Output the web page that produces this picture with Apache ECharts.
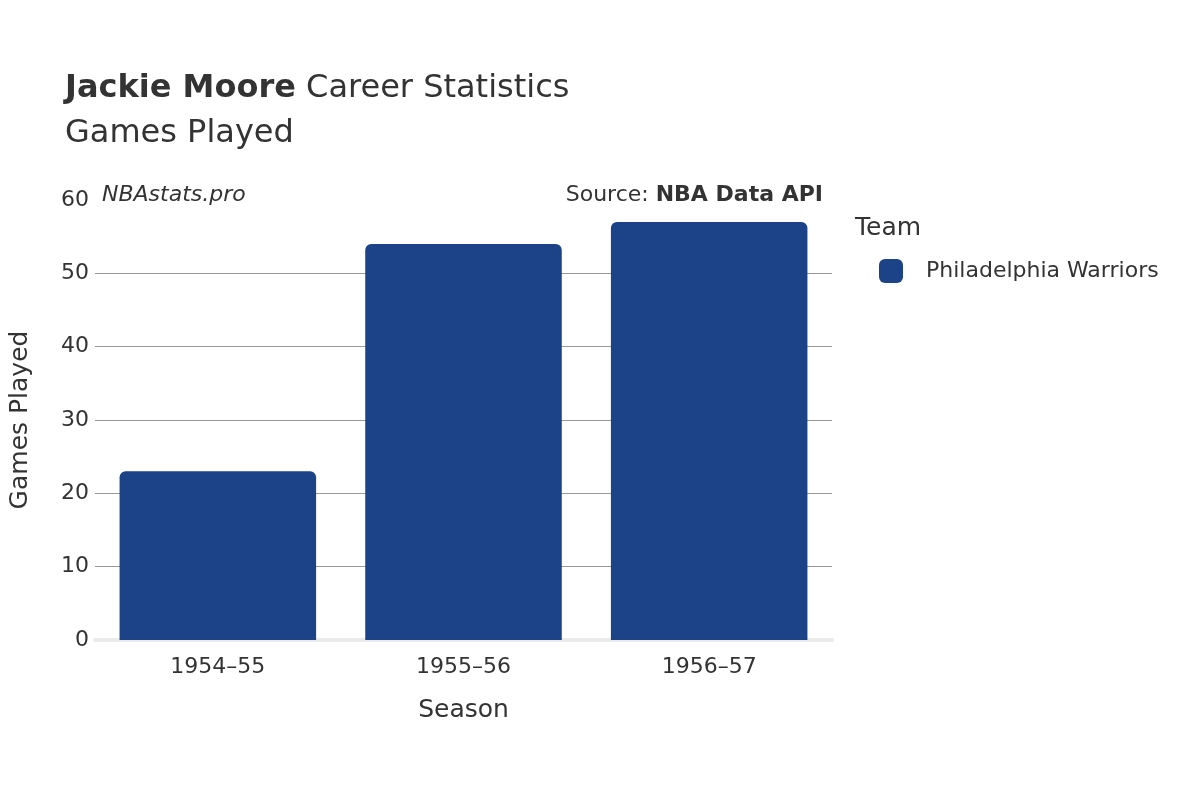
<!DOCTYPE html>
<html>
<head>
<meta charset="utf-8">
<script src="https://cdn.jsdelivr.net/npm/echarts@6/dist/echarts.min.js"></script>
<style>html,body{margin:0;padding:0;background:#fff}#main{width:1200px;height:800px}</style>
</head>
<body>
<div id="main"></div>
<script>
// 数据
const seasons = ['1954–55', '1955–56', '1956–57']
const gamesPlayed = [23, 54, 57]
const teamName = 'Philadelphia Warriors'
const yTicks = [0, 60, 10]

const font = 'DejaVu Sans'
const myChart = echarts.init(document.querySelector('#main'))
const option = {
  animation: false,
  textStyle: { fontFamily: font },
  title: [
    {
      text: '{b|Jackie Moore} Career Statistics',
      left: 60, top: 68,
      textStyle: {
        fontFamily: font, fontSize: 32, color: '#333', fontWeight: 'normal',
        rich: { b: { fontFamily: font, fontSize: 32, fontWeight: 'bold', color: '#333' } }
      }
    },
    { text: 'Games Played', left: 60, top: 113, textStyle: { fontFamily: font, fontSize: 32, color: '#333', fontWeight: 'normal' } },
    { text: 'NBAstats.pro', left: 97, top: 179, textStyle: { fontFamily: font, fontSize: 22, color: '#333', fontStyle: 'italic', fontWeight: 'normal' } },
    {
      text: 'Source: {b|NBA Data API}', right: 372, top: 179,
      textStyle: {
        fontFamily: font, fontSize: 22, color: '#333', fontWeight: 'normal',
        rich: { b: { fontFamily: font, fontSize: 22, fontWeight: 'bold', color: '#333' } }
      }
    },
    { text: 'Team', left: 850, top: 211, textStyle: { fontFamily: font, fontSize: 25, color: '#333', fontWeight: 'normal' } }
  ],
  legend: {
    left: 874, top: 254,
    itemWidth: 24, itemHeight: 24, itemGap: 10,
    icon: 'roundRect',
    textStyle: { fontFamily: font, fontSize: 22, color: '#333', padding: [0, 0, 0, 18] },
    data: [teamName]
  },
  grid: { left: 93, right: 368, top: 200, bottom: 160 },
  xAxis: {
    type: 'category',
    data: seasons,
    name: 'Season', nameLocation: 'middle', nameGap: 58,
    nameTextStyle: { fontFamily: font, fontSize: 25, color: '#333' },
    axisLine: { lineStyle: { color: '#ebebeb', width: 4 } },
    axisTick: { show: false },
    axisLabel: { fontFamily: font, fontSize: 22, color: '#333', margin: 16 }
  },
  yAxis: {
    type: 'value',
    min: yTicks[0], max: yTicks[1], interval: yTicks[2],
    name: 'Games Played', nameLocation: 'middle', nameGap: 62,
    nameTextStyle: { fontFamily: font, fontSize: 25, color: '#333' },
    axisLabel: { fontFamily: font, fontSize: 22, color: '#333', margin: 6 },
    splitLine: { lineStyle: { color: '#999', width: 1 }, showMaxLine: false }
  },
  series: [
    {
      name: teamName,
      type: 'bar',
      data: gamesPlayed,
      barCategoryGap: '20%',
      itemStyle: { color: '#1c4387', borderRadius: [6, 6, 0, 0] }
    }
  ]
}
myChart.setOption(option)
</script>
</body>
</html>
